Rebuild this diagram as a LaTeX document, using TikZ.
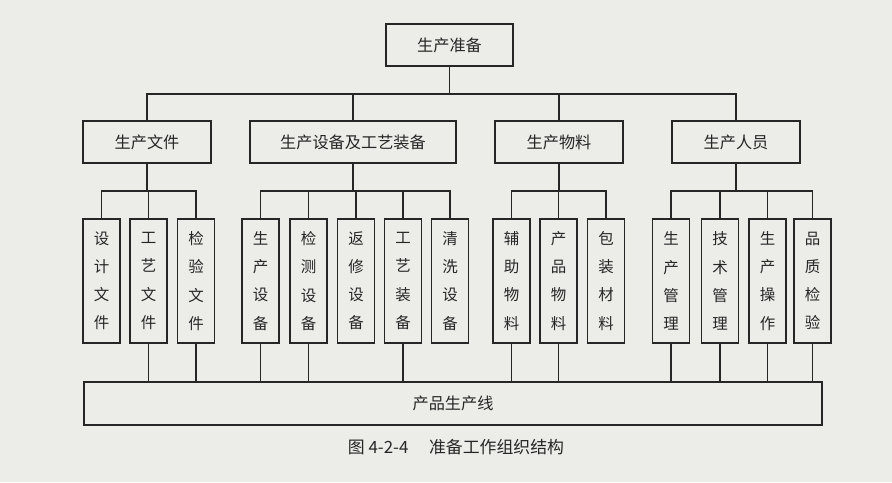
\documentclass[tikz,border=0pt]{standalone}
\usepackage{fontspec}
\setmainfont{Noto Sans CJK SC}
\usetikzlibrary{positioning}
\definecolor{paper}{RGB}{236,236,233}
\definecolor{ink}{RGB}{38,38,38}
\tikzset{
  box/.style={draw=ink, line width=0.9pt, fill=paper, inner sep=0pt, minimum height=1.05cm, text=ink, font=\fontsize{11.5}{14}\selectfont},
  leaf/.style={box, minimum width=0.925cm, minimum height=3.1cm, align=center, font=\fontsize{11}{20}\selectfont},
  link/.style={draw=ink, line width=0.9pt},
}
\begin{document}
\begin{tikzpicture}[x=0.025cm,y=-0.025cm]
\fill[paper] (0,0) rectangle (892,482);
\useasboundingbox (0,0) rectangle (892,482);
% top and second level
\node[box, minimum width=3.175cm] (prep) at (449.5,45) {生产准备};
\node[box, minimum width=3.2cm] (doc) at (147,142) {生产文件};
\node[box, minimum width=5.15cm] (equip) at (353,142) {生产设备及工艺装备};
\node[box, minimum width=3.2cm] (mat) at (559,142) {生产物料};
\node[box, minimum width=3.2cm] (staff) at (736,142) {生产人员};
% leaves
\foreach \n/\x/\t in {d1/101.5/{设\\计\\文\\件}, d2/148.5/{工\\艺\\文\\件}, d3/196/{检\\验\\文\\件},
  e1/260.5/{生\\产\\设\\备}, e2/308.5/{检\\测\\设\\备}, e3/356/{返\\修\\设\\备}, e4/403/{工\\艺\\装\\备}, e5/450/{清\\洗\\设\\备},
  m1/511.5/{辅\\助\\物\\料}, m2/558.5/{产\\品\\物\\料}, m3/606/{包\\装\\材\\料},
  p1/671/{生\\产\\管\\理}, p2/720/{技\\术\\管\\理}, p3/767.5/{生\\产\\操\\作}, p4/812.5/{品\\质\\检\\验}}
  { \node[leaf] (\n) at (\x,281) {\t}; }
\node[box, minimum width=18.45cm, minimum height=1.075cm] (line) at (453,403.5) {产品生产线};
\node[text=ink, font=\fontsize{12}{14}\selectfont] (cap) at (456,447) {图 4-2-4\quad\ 准备工作组织结构};
% connectors
\coordinate (topbus) at (449.5,94);
\draw[link] (prep.south) -- (topbus);
\foreach \n in {doc,equip,mat,staff} \draw[link] (topbus) -| (\n.north);
\foreach \g/\x/\kids in {doc/147/{d1,d2,d3}, equip/353/{e1,e2,e3,e4,e5}, mat/559/{m1,m2,m3}, staff/736/{p1,p2,p3,p4}}
{
  \coordinate (\g bus) at (\x,191);
  \draw[link] (\g.south) -- (\g bus);
  \foreach \k in \kids \draw[link] (\g bus) -| (\k.north);
}
\foreach \n in {d2,d3,e1,e2,e4,m1,m2,p1,p2,p3,p4} \draw[link] (\n.south) -- (\n.south |- line.north);
\end{tikzpicture}
\end{document}
